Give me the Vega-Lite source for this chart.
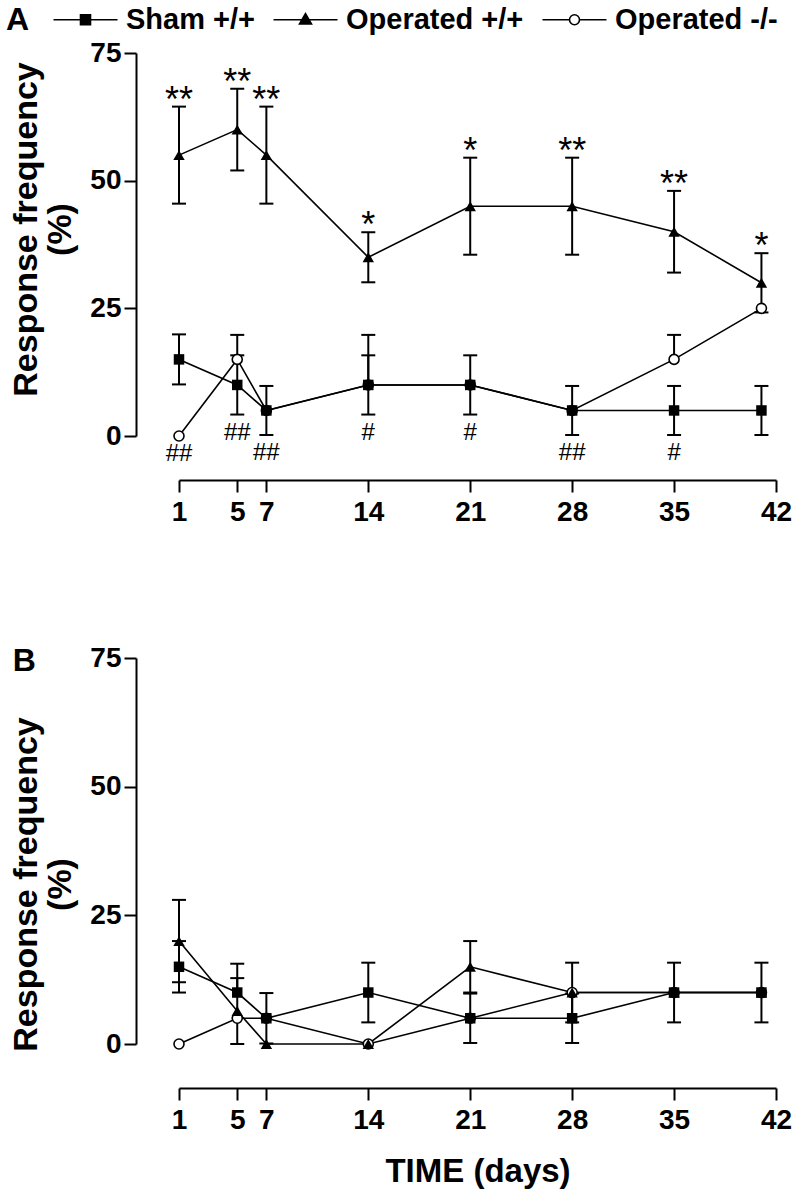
{
  "$schema": "https://vega.github.io/schema/vega-lite/v6.json",
  "background": "white",
  "padding": {"left": 6, "top": 5, "right": 5, "bottom": 5},
  "config": {
    "view": {"stroke": null},
    "font": "Liberation Sans",
    "axis": {
      "domainColor": "black", "domainWidth": 2, "tickColor": "black", "tickWidth": 2, "tickSize": 12,
      "labelFont": "Liberation Sans", "labelFontSize": 28, "labelFontWeight": "bold", "labelColor": "black",
      "grid": false, "titleFont": "Liberation Sans", "titleFontWeight": "bold", "titleColor": "black"
    }
  },
  "datasets": {
    "pts": [
      {"p": "A", "s": "Sham +/+", "d": 1, "v": 15, "lo": 10.1, "hi": 19.9},
      {"p": "A", "s": "Sham +/+", "d": 5, "v": 10, "lo": 4.2, "hi": 15.8},
      {"p": "A", "s": "Sham +/+", "d": 7, "v": 5, "lo": 0.2, "hi": 9.8},
      {"p": "A", "s": "Sham +/+", "d": 14, "v": 10, "lo": 4.2, "hi": 15.8},
      {"p": "A", "s": "Sham +/+", "d": 21, "v": 10, "lo": 4.2, "hi": 15.8},
      {"p": "A", "s": "Sham +/+", "d": 28, "v": 5, "lo": 0.2, "hi": 9.8},
      {"p": "A", "s": "Sham +/+", "d": 35, "v": 5, "lo": 0.2, "hi": 9.8},
      {"p": "A", "s": "Sham +/+", "d": 41, "v": 5, "lo": 0.2, "hi": 9.8},
      {"p": "A", "s": "Operated +/+", "d": 1, "v": 55, "lo": 45.5, "hi": 64.5},
      {"p": "A", "s": "Operated +/+", "d": 5, "v": 60, "lo": 52, "hi": 68},
      {"p": "A", "s": "Operated +/+", "d": 7, "v": 55, "lo": 45.5, "hi": 64.5},
      {"p": "A", "s": "Operated +/+", "d": 14, "v": 35, "lo": 30.1, "hi": 39.9},
      {"p": "A", "s": "Operated +/+", "d": 21, "v": 45, "lo": 35.5, "hi": 54.5},
      {"p": "A", "s": "Operated +/+", "d": 28, "v": 45, "lo": 35.5, "hi": 54.5},
      {"p": "A", "s": "Operated +/+", "d": 35, "v": 40, "lo": 32, "hi": 48},
      {"p": "A", "s": "Operated +/+", "d": 41, "v": 30, "lo": 24.2, "hi": 35.8},
      {"p": "A", "s": "Operated -/-", "d": 1, "v": 0, "lo": null, "hi": null},
      {"p": "A", "s": "Operated -/-", "d": 5, "v": 15, "lo": null, "hi": 19.8},
      {"p": "A", "s": "Operated -/-", "d": 7, "v": 5, "lo": null, "hi": null},
      {"p": "A", "s": "Operated -/-", "d": 14, "v": 10, "lo": null, "hi": 19.8},
      {"p": "A", "s": "Operated -/-", "d": 21, "v": 10, "lo": null, "hi": null},
      {"p": "A", "s": "Operated -/-", "d": 28, "v": 5, "lo": null, "hi": null},
      {"p": "A", "s": "Operated -/-", "d": 35, "v": 15, "lo": null, "hi": 19.8},
      {"p": "A", "s": "Operated -/-", "d": 41, "v": 25, "lo": null, "hi": null},
      {"p": "B", "s": "Sham +/+", "d": 1, "v": 15, "lo": 10, "hi": 20},
      {"p": "B", "s": "Sham +/+", "d": 5, "v": 10, "lo": null, "hi": 15.6},
      {"p": "B", "s": "Sham +/+", "d": 7, "v": 5, "lo": 0.1, "hi": 9.9},
      {"p": "B", "s": "Sham +/+", "d": 14, "v": 10, "lo": 4.2, "hi": 15.8},
      {"p": "B", "s": "Sham +/+", "d": 21, "v": 5, "lo": 0.2, "hi": 9.8},
      {"p": "B", "s": "Sham +/+", "d": 28, "v": 5, "lo": 0.2, "hi": 9.8},
      {"p": "B", "s": "Sham +/+", "d": 35, "v": 10, "lo": 4.2, "hi": 15.8},
      {"p": "B", "s": "Sham +/+", "d": 41, "v": 10, "lo": 4.2, "hi": 15.8},
      {"p": "B", "s": "Operated +/+", "d": 1, "v": 20, "lo": 12, "hi": 28},
      {"p": "B", "s": "Operated +/+", "d": 5, "v": 6.4, "lo": 0, "hi": 12.8},
      {"p": "B", "s": "Operated +/+", "d": 7, "v": 0, "lo": null, "hi": null},
      {"p": "B", "s": "Operated +/+", "d": 14, "v": 0, "lo": null, "hi": null},
      {"p": "B", "s": "Operated +/+", "d": 21, "v": 15, "lo": 10, "hi": 20},
      {"p": "B", "s": "Operated +/+", "d": 28, "v": 10, "lo": 4.2, "hi": 15.8},
      {"p": "B", "s": "Operated +/+", "d": 35, "v": 10, "lo": null, "hi": null},
      {"p": "B", "s": "Operated +/+", "d": 41, "v": 10, "lo": null, "hi": null},
      {"p": "B", "s": "Operated -/-", "d": 1, "v": 0, "lo": null, "hi": null},
      {"p": "B", "s": "Operated -/-", "d": 5, "v": 5, "lo": null, "hi": null},
      {"p": "B", "s": "Operated -/-", "d": 7, "v": 5, "lo": null, "hi": null},
      {"p": "B", "s": "Operated -/-", "d": 14, "v": 0, "lo": null, "hi": null},
      {"p": "B", "s": "Operated -/-", "d": 21, "v": 5, "lo": null, "hi": null},
      {"p": "B", "s": "Operated -/-", "d": 28, "v": 10, "lo": null, "hi": null},
      {"p": "B", "s": "Operated -/-", "d": 35, "v": 10, "lo": null, "hi": null},
      {"p": "B", "s": "Operated -/-", "d": 41, "v": 10, "lo": null, "hi": null}
    ],
    "ann": [
      {"p": "A", "k": "star", "d": 1, "v": 64.5, "t": "**"},
      {"p": "A", "k": "star", "d": 5, "v": 68, "t": "**"},
      {"p": "A", "k": "star", "d": 7, "v": 64.5, "t": "**"},
      {"p": "A", "k": "star", "d": 14, "v": 39.9, "t": "*"},
      {"p": "A", "k": "star", "d": 21, "v": 54.5, "t": "*"},
      {"p": "A", "k": "star", "d": 28, "v": 54.5, "t": "**"},
      {"p": "A", "k": "star", "d": 35, "v": 48, "t": "**"},
      {"p": "A", "k": "star", "d": 41, "v": 35.8, "t": "*"},
      {"p": "A", "k": "hash", "d": 1, "v": 0, "t": "##"},
      {"p": "A", "k": "hash", "d": 5, "v": 4.2, "t": "##"},
      {"p": "A", "k": "hash", "d": 7, "v": 0.2, "t": "##"},
      {"p": "A", "k": "hash", "d": 14, "v": 4.2, "t": "#"},
      {"p": "A", "k": "hash", "d": 21, "v": 4.2, "t": "#"},
      {"p": "A", "k": "hash", "d": 28, "v": 0.2, "t": "##"},
      {"p": "A", "k": "hash", "d": 35, "v": 0.2, "t": "#"}
    ]
  },
  "resolve": {
    "scale": {"shape": "independent", "fill": "independent"},
    "legend": {"shape": "independent", "fill": "independent"}
  },
  "spacing": 118,
  "vconcat": [
    {
      "width": 597,
      "height": 383,
      "data": {"name": "pts"},
      "transform": [{"filter": "datum.p === 'A'"}],
      "encoding": {
        "x": {
          "field": "d", "type": "quantitative",
          "scale": {"domain": [1, 42], "nice": false, "zero": false},
          "axis": {"values": [1, 5, 7, 14, 21, 28, 35, 42], "offset": 44, "title": null, "labelPadding": 6, "labelFlush": false, "labelOverlap": false}
        }
      },
      "layer": [
        {
          "mark": {"type": "line", "color": "black", "strokeWidth": 1.6},
          "encoding": {
            "y": {
              "field": "v", "type": "quantitative",
              "scale": {"domain": [0, 75], "nice": false, "zero": false},
              "axis": {"values": [0, 25, 50, 75], "offset": 43, "title": ["Response frequency", "(%)"], "titleFontSize": 34, "titleLineHeight": 34, "titlePadding": 12, "titleY": 176, "labelPadding": 3}
            },
            "detail": {"field": "s"}
          }
        },
        {
          "transform": [{"filter": "datum.hi != null"}],
          "mark": {"type": "rule", "color": "black", "strokeWidth": 2},
          "encoding": {"y": {"field": "v", "type": "quantitative"}, "y2": {"field": "hi"}}
        },
        {
          "transform": [{"filter": "datum.lo != null"}],
          "mark": {"type": "rule", "color": "black", "strokeWidth": 2},
          "encoding": {"y": {"field": "lo", "type": "quantitative"}, "y2": {"field": "v"}}
        },
        {
          "transform": [{"filter": "datum.hi != null"}],
          "mark": {"type": "tick", "orient": "horizontal", "color": "black", "size": 14, "thickness": 2, "opacity": 1},
          "encoding": {"y": {"field": "hi", "type": "quantitative"}}
        },
        {
          "transform": [{"filter": "datum.lo != null"}],
          "mark": {"type": "tick", "orient": "horizontal", "color": "black", "size": 14, "thickness": 2, "opacity": 1},
          "encoding": {"y": {"field": "lo", "type": "quantitative"}}
        },
        {
          "transform": [{"filter": "datum.s === 'Operated -/-'"}],
          "mark": {"type": "point", "shape": "circle", "size": 100, "filled": false, "fill": "white", "stroke": "black", "strokeWidth": 1.6, "opacity": 1},
          "encoding": {"y": {"field": "v", "type": "quantitative"}}
        },
        {
          "transform": [{"filter": "datum.s === 'Operated +/+'"}],
          "mark": {"type": "point", "shape": "triangle-up", "size": 130, "filled": true, "color": "black", "opacity": 1},
          "encoding": {"y": {"field": "v", "type": "quantitative"}}
        },
        {
          "transform": [{"filter": "datum.s === 'Sham +/+'"}],
          "mark": {"type": "square", "size": 110, "color": "black", "opacity": 1},
          "encoding": {"y": {"field": "v", "type": "quantitative"}}
        },
        {
          "data": {"name": "ann"},
          "transform": [{"filter": "datum.p === 'A' && datum.k === 'star'"}],
          "mark": {"type": "text", "font": "Liberation Sans", "fontSize": 36, "baseline": "alphabetic", "dy": 5, "color": "black"},
          "encoding": {"y": {"field": "v", "type": "quantitative"}, "text": {"field": "t"}}
        },
        {
          "data": {"name": "ann"},
          "transform": [{"filter": "datum.p === 'A' && datum.k === 'hash'"}],
          "mark": {"type": "text", "font": "Liberation Sans", "fontSize": 24, "baseline": "middle", "dy": 18, "color": "black"},
          "encoding": {"y": {"field": "v", "type": "quantitative"}, "text": {"field": "t"}}
        },
        {
          "transform": [{"filter": "false"}],
          "mark": {"type": "point", "stroke": "black", "strokeWidth": 1.6, "opacity": 1},
          "encoding": {
            "y": {"field": "v", "type": "quantitative"},
            "shape": {
              "field": "s", "type": "nominal",
              "scale": {
                "domain": ["Sham +/+", "Operated +/+", "Operated -/-"],
                "range": [
                  "M-3.2,0H3.2M-0.5,-0.5H0.5V0.5H-0.5Z",
                  "M-3.2,0H3.2M0,-0.62L0.6,0.42L-0.6,0.42Z",
                  "M-3.2,0H-0.5M0.5,0H3.2M-0.5,0A0.5,0.5,0,1,0,0.5,0A0.5,0.5,0,1,0,-0.5,0Z"
                ]
              },
              "legend": {
                "orient": "none", "legendX": -173, "legendY": -48, "direction": "horizontal",
                "title": "A", "titleOrient": "left", "titleFontSize": 32, "titleFontWeight": "bold", "titleColor": "black", "titlePadding": 41, "titleFont": "Liberation Sans",
                "labelFontSize": 29, "labelFontWeight": "bold", "labelColor": "black", "labelFont": "Liberation Sans", "labelOffset": 26, "labelLimit": 400,
                "symbolSize": 400, "columnPadding": 15, "symbolStrokeWidth": 1.6, "symbolStrokeColor": "black", "symbolOpacity": 1,
                "encode": {"symbols": {"update": {"stroke": {"value": "black"}, "strokeWidth": {"value": 1.6}, "opacity": {"value": 1}}}}
              }
            },
            "fill": {
              "field": "s", "type": "nominal",
              "scale": {"domain": ["Sham +/+", "Operated +/+", "Operated -/-"], "range": ["black", "black", "white"]},
              "legend": {
                "orient": "none", "legendX": -173, "legendY": -48, "direction": "horizontal",
                "title": "A", "titleOrient": "left", "titleFontSize": 32, "titleFontWeight": "bold", "titleColor": "black", "titlePadding": 41, "titleFont": "Liberation Sans",
                "labelFontSize": 29, "labelFontWeight": "bold", "labelColor": "black", "labelFont": "Liberation Sans", "labelOffset": 26, "labelLimit": 400,
                "symbolSize": 400, "columnPadding": 15, "symbolStrokeWidth": 1.6, "symbolStrokeColor": "black", "symbolOpacity": 1,
                "encode": {"symbols": {"update": {"stroke": {"value": "black"}, "strokeWidth": {"value": 1.6}, "opacity": {"value": 1}}}}
              }
            }
          }
        }
      ]
    },
    {
      "width": 597,
      "height": 386,
      "title": {"text": "B", "anchor": "start", "frame": "bounds", "fontSize": 32, "fontWeight": "bold", "color": "black", "font": "Liberation Sans", "offset": 0, "dy": 34, "dx": 3},
      "data": {"name": "pts"},
      "transform": [{"filter": "datum.p === 'B'"}],
      "encoding": {
        "x": {
          "field": "d", "type": "quantitative",
          "scale": {"domain": [1, 42], "nice": false, "zero": false},
          "axis": {"values": [1, 5, 7, 14, 21, 28, 35, 42], "offset": 44, "title": "TIME (days)", "titleFontSize": 33, "titlePadding": 21, "labelPadding": 6, "labelFlush": false, "labelOverlap": false}
        }
      },
      "layer": [
        {
          "mark": {"type": "line", "color": "black", "strokeWidth": 1.6},
          "encoding": {
            "y": {
              "field": "v", "type": "quantitative",
              "scale": {"domain": [0, 75], "nice": false, "zero": false},
              "axis": {"values": [0, 25, 50, 75], "offset": 43, "title": ["Response frequency", "(%)"], "titleFontSize": 34, "titleLineHeight": 34, "titlePadding": 12, "titleY": 226, "labelPadding": 3}
            },
            "detail": {"field": "s"}
          }
        },
        {
          "transform": [{"filter": "datum.hi != null"}],
          "mark": {"type": "rule", "color": "black", "strokeWidth": 2},
          "encoding": {"y": {"field": "v", "type": "quantitative"}, "y2": {"field": "hi"}}
        },
        {
          "transform": [{"filter": "datum.lo != null"}],
          "mark": {"type": "rule", "color": "black", "strokeWidth": 2},
          "encoding": {"y": {"field": "lo", "type": "quantitative"}, "y2": {"field": "v"}}
        },
        {
          "transform": [{"filter": "datum.hi != null"}],
          "mark": {"type": "tick", "orient": "horizontal", "color": "black", "size": 14, "thickness": 2, "opacity": 1},
          "encoding": {"y": {"field": "hi", "type": "quantitative"}}
        },
        {
          "transform": [{"filter": "datum.lo != null"}],
          "mark": {"type": "tick", "orient": "horizontal", "color": "black", "size": 14, "thickness": 2, "opacity": 1},
          "encoding": {"y": {"field": "lo", "type": "quantitative"}}
        },
        {
          "transform": [{"filter": "datum.s === 'Operated -/-'"}],
          "mark": {"type": "point", "shape": "circle", "size": 100, "filled": false, "fill": "white", "stroke": "black", "strokeWidth": 1.6, "opacity": 1},
          "encoding": {"y": {"field": "v", "type": "quantitative"}}
        },
        {
          "transform": [{"filter": "datum.s === 'Operated +/+'"}],
          "mark": {"type": "point", "shape": "triangle-up", "size": 130, "filled": true, "color": "black", "opacity": 1},
          "encoding": {"y": {"field": "v", "type": "quantitative"}}
        },
        {
          "transform": [{"filter": "datum.s === 'Sham +/+'"}],
          "mark": {"type": "square", "size": 110, "color": "black", "opacity": 1},
          "encoding": {"y": {"field": "v", "type": "quantitative"}}
        }
      ]
    }
  ]
}
